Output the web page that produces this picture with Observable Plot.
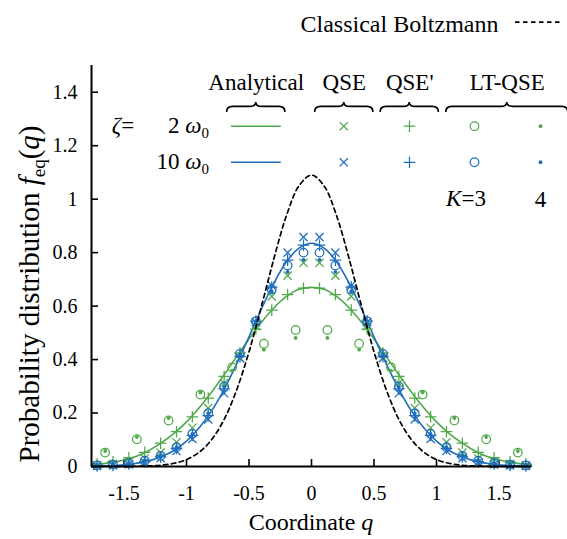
<!DOCTYPE html>
<html>
<head>
<meta charset="utf-8">
<script src="https://cdn.jsdelivr.net/npm/d3@7"></script>
<script src="https://cdn.jsdelivr.net/npm/@observablehq/plot@0.6"></script>
<style>
html,body{margin:0;padding:0;background:#fff;}
#chart svg{display:block;}
#chart svg, #chart svg text, #chart svg tspan{font-family:"Liberation Serif", serif !important;}
</style>
</head>
<body>
<div id="chart"></div>
<script>
// ---- values (right half; the distribution is symmetric in q) ----
const qCurve = [0, 0.1, 0.2, 0.3, 0.4, 0.5, 0.6, 0.7, 0.8, 0.9, 1.0, 1.1, 1.2, 1.3, 1.4, 1.5, 1.6, 1.7, 1.76];
const boltzmann        = [1.090, 1.050, 0.939, 0.779, 0.600, 0.429, 0.285, 0.175, 0.100, 0.053, 0.026, 0.012, 0.005, 0.002, 0.001, 0.000, 0.000, 0.000, 0.000];
const analyticalZeta2  = [0.670, 0.663, 0.636, 0.594, 0.540, 0.477, 0.410, 0.342, 0.278, 0.219, 0.167, 0.124, 0.089, 0.060, 0.038, 0.024, 0.015, 0.009, 0.007];
const analyticalZeta10 = [0.835, 0.817, 0.766, 0.687, 0.590, 0.485, 0.382, 0.288, 0.208, 0.144, 0.095, 0.060, 0.037, 0.021, 0.012, 0.006, 0.003, 0.002, 0.001];

const qGrid = [0.064, 0.191, 0.318, 0.445, 0.572, 0.699, 0.826, 0.953, 1.080, 1.207, 1.334, 1.461, 1.588, 1.715];
const qseZeta2       = [0.762, 0.714, 0.636, 0.525, 0.406, 0.312, 0.219, 0.145, 0.091, 0.052, 0.030, 0.018, 0.010, 0.005];
const qsePrimeZeta2  = [0.667, 0.643, 0.585, 0.514, 0.425, 0.337, 0.256, 0.186, 0.130, 0.087, 0.053, 0.033, 0.018, 0.010];
const qseZeta10      = [0.858, 0.800, 0.677, 0.540, 0.405, 0.274, 0.176, 0.103, 0.058, 0.031, 0.016, 0.008, 0.004, 0.002];
const qsePrimeZeta10 = [0.828, 0.772, 0.671, 0.544, 0.411, 0.290, 0.190, 0.116, 0.067, 0.036, 0.018, 0.009, 0.004, 0.002];
const ltK3Zeta10     = [0.800, 0.752, 0.662, 0.543, 0.421, 0.299, 0.199, 0.122, 0.072, 0.040, 0.022, 0.012, 0.007, 0.004];
const ltK4Zeta10     = [0.773, 0.728, 0.655, 0.540, 0.418, 0.298, 0.199, 0.122, 0.072, 0.040, 0.022, 0.012, 0.007, 0.004];

const qGridCoarse = [0.127, 0.381, 0.635, 0.889, 1.143, 1.397, 1.651];
const ltK3Zeta2   = [0.511, 0.459, 0.371, 0.269, 0.172, 0.102, 0.052];
const ltK4Zeta2   = [0.481, 0.437, 0.359, 0.277, 0.181, 0.110, 0.058];

const xTicks = [-1.5, -1, -0.5, 0, 0.5, 1, 1.5];
const yTicks = [0, 0.2, 0.4, 0.6, 0.8, 1, 1.2, 1.4];
const methodLabels = ["Analytical", "QSE", "QSE'", "LT-QSE"];

// ---- styling / layout ----
const GREEN = "#4fa94a";
const BLUE = "#1f6dbd";
const FONT = "Liberation Serif";
const W = 567, H = 539;
const M = {top: 65, right: 36, bottom: 73, left: 91};
const frameW = W - M.left - M.right, frameH = H - M.top - M.bottom;

function mirror(qs, vs) {
  const pts = [];
  qs.forEach((q, i) => {
    if (q === 0) pts.push({q: 0, f: vs[i]});
    else { pts.push({q: -q, f: vs[i]}); pts.push({q: q, f: vs[i]}); }
  });
  return pts.sort((a, b) => a.q - b.q);
}

// legend layout in data units
const legendHeader = {y: 1.437, x: [-0.442, 0.262, 0.786, 1.566]};
const legendRowY = [1.273, 1.138];
const legendCol = {line: [-0.64, -0.242], times: 0.258, plus: 0.784, circle: 1.304, dot: 1.832};
const legendRows = [{y: legendRowY[0], color: GREEN}, {y: legendRowY[1], color: BLUE}];

const markerSets = [
  {data: mirror(qGrid, qseZeta2), symbol: "times", color: GREEN},
  {data: mirror(qGrid, qsePrimeZeta2), symbol: "plus", color: GREEN},
  {data: mirror(qGridCoarse, ltK3Zeta2), symbol: "circle", color: GREEN},
  {data: mirror(qGridCoarse, ltK4Zeta2), symbol: "dot", color: GREEN},
  {data: mirror(qGrid, qseZeta10), symbol: "times", color: BLUE},
  {data: mirror(qGrid, qsePrimeZeta10), symbol: "plus", color: BLUE},
  {data: mirror(qGrid, ltK3Zeta10), symbol: "circle", color: BLUE},
  {data: mirror(qGrid, ltK4Zeta10), symbol: "dot", color: BLUE}
];

function markerMark(data, symbol, color, xAcc, yAcc) {
  if (symbol === "circle") return Plot.dot(data, {x: xAcc, y: yAcc, symbol: "circle", r: 4.3, fill: "none", stroke: color, strokeWidth: 1.25});
  if (symbol === "dot") return Plot.dot(data, {x: xAcc, y: yAcc, r: 1.9, fill: color, stroke: "none"});
  return Plot.dot(data, {x: xAcc, y: yAcc, symbol, r: 3.8, fill: "none", stroke: color, strokeWidth: 1.25});
}

const legendMarks = [];
legendRows.forEach(row => {
  legendMarks.push(Plot.ruleY([row.y], {x1: legendCol.line[0], x2: legendCol.line[1], stroke: row.color, strokeWidth: 1.6}));
  legendMarks.push(markerMark([{q: legendCol.times, f: row.y}], "times", row.color, "q", "f"));
  legendMarks.push(markerMark([{q: legendCol.plus, f: row.y}], "plus", row.color, "q", "f"));
  legendMarks.push(markerMark([{q: legendCol.circle, f: row.y}], "circle", row.color, "q", "f"));
  legendMarks.push(markerMark([{q: legendCol.dot, f: row.y}], "dot", row.color, "q", "f"));
});

const plot = Plot.plot({
  width: W, height: H,
  marginTop: M.top, marginRight: M.right, marginBottom: M.bottom, marginLeft: M.left,
  style: {fontFamily: FONT, fontSize: "20px", color: "#000", background: "#fff", overflow: "visible"},
  x: {domain: [-1.76, 1.76], label: null},
  y: {domain: [0, 1.5], label: null},
  marks: [
    Plot.axisX(xTicks, {tickFormat: d => String(d), tickSize: 0, tickPadding: 19, fontSize: 20, label: null}),
    Plot.axisY(yTicks, {tickFormat: d => String(d), tickSize: 0, tickPadding: 14, fontSize: 20, label: null}),
    Plot.tickX(xTicks, {x: d => d, insetTop: frameH - 7, stroke: "#000", strokeWidth: 1.6}),
    Plot.tickY(yTicks, {y: d => d, insetRight: frameW - 7, stroke: "#000", strokeWidth: 1.6}),
    Plot.line(mirror(qCurve, analyticalZeta2), {x: "q", y: "f", stroke: GREEN, strokeWidth: 1.6, curve: "catmull-rom"}),
    Plot.line(mirror(qCurve, analyticalZeta10), {x: "q", y: "f", stroke: BLUE, strokeWidth: 1.6, curve: "catmull-rom"}),
    ...markerSets.map(s => markerMark(s.data, s.symbol, s.color, "q", "f")),
    Plot.line(mirror(qCurve, boltzmann), {x: "q", y: "f", stroke: "#000", strokeWidth: 1.7, strokeDasharray: "4.5,3.5", curve: "catmull-rom"}),
    Plot.ruleX([-1.76], {stroke: "#000", strokeWidth: 2}),
    Plot.ruleY([0], {stroke: "#000", strokeWidth: 2}),
    // legend
    Plot.text(methodLabels, {x: (d, i) => legendHeader.x[i], y: legendHeader.y, text: d => d, fontSize: 23, fill: "#000"}),
    ...legendMarks,
    Plot.text(["Classical Boltzmann"], {x: 1.496, y: 1.654, text: d => d, textAnchor: "end", fontSize: 24, fill: "#000"}),
    Plot.ruleY([1.662], {x1: 1.632, x2: 2.016, stroke: "#000", strokeWidth: 1.7, strokeDasharray: "4.5,3.5"}),
    Plot.text(["4"], {x: legendCol.dot, y: 1.0, text: d => d, fontSize: 23, fill: "#000"})
  ]
});

document.getElementById("chart").appendChild(plot);

// ---- rich text and braces, positioned through Plot's scales ----
const sx = plot.scale("x"), sy = plot.scale("y");
const X = v => sx.apply(v), Y = v => sy.apply(v);
const svg = d3.select(plot);
const g = svg.append("g").attr("font-family", FONT).attr("fill", "#000");

// braces under method labels
const braces = [
  {c: -0.442, h: 0.233}, {c: 0.262, h: 0.233}, {c: 0.786, h: 0.233}, {c: 1.566, h: 0.488}
];
const braceTop = Y(1.362), braceBot = braceTop + 10, braceMid = braceTop + 4.5;
braces.forEach(b => {
  const x0 = X(b.c - b.h), x1 = X(b.c + b.h), xc = X(b.c), r = 6;
  const p = `M${x0},${braceBot} Q${x0},${braceMid} ${x0 + r},${braceMid} L${xc - r},${braceMid} Q${xc},${braceMid} ${xc},${braceTop} Q${xc},${braceMid} ${xc + r},${braceMid} L${x1 - r},${braceMid} Q${x1},${braceMid} ${x1},${braceBot}`;
  g.append("path").attr("d", p).attr("fill", "none").attr("stroke", "#000").attr("stroke-width", 1.6);
});

// zeta row labels
function zetaLabel(num, y) {
  const t = g.append("text").attr("x", X(-0.816)).attr("y", Y(y)).attr("dy", "0.33em")
    .attr("text-anchor", "end").attr("font-size", 23);
  t.append("tspan").text(num + " ");
  t.append("tspan").attr("font-style", "italic").text("ω");
  t.append("tspan").attr("font-size", 15).attr("dy", "0.3em").text("0");
}
g.append("text").attr("x", X(-1.504)).attr("y", Y(legendRowY[0])).attr("dy", "0.33em").attr("font-size", 23)
  .call(t => { t.append("tspan").attr("font-style", "italic").text("ζ"); t.append("tspan").text("="); });
zetaLabel("2", legendRowY[0]);
zetaLabel("10", legendRowY[1]);

// K labels
g.append("text").attr("x", X(1.24)).attr("y", Y(1.0)).attr("dy", "0.33em").attr("text-anchor", "middle").attr("font-size", 23)
  .call(t => { t.append("tspan").attr("font-style", "italic").text("K"); t.append("tspan").text("=3"); });

// axis titles
g.append("text").attr("x", X(0)).attr("y", H - 9).attr("text-anchor", "middle").attr("font-size", 24)
  .call(t => { t.append("tspan").text("Coordinate "); t.append("tspan").attr("font-style", "italic").text("q"); });
g.append("text").attr("transform", `translate(39,294) rotate(-90)`).attr("text-anchor", "middle").attr("font-size", 29)
  .call(t => {
    t.append("tspan").text("Probability distribution ");
    t.append("tspan").attr("font-style", "italic").text("f");
    t.append("tspan").attr("font-size", 19).attr("dy", "0.3em").text("eq");
    t.append("tspan").attr("dy", "-0.2em").text("(");
    t.append("tspan").attr("font-style", "italic").text("q");
    t.append("tspan").text(")");
  });
</script>
</body>
</html>
